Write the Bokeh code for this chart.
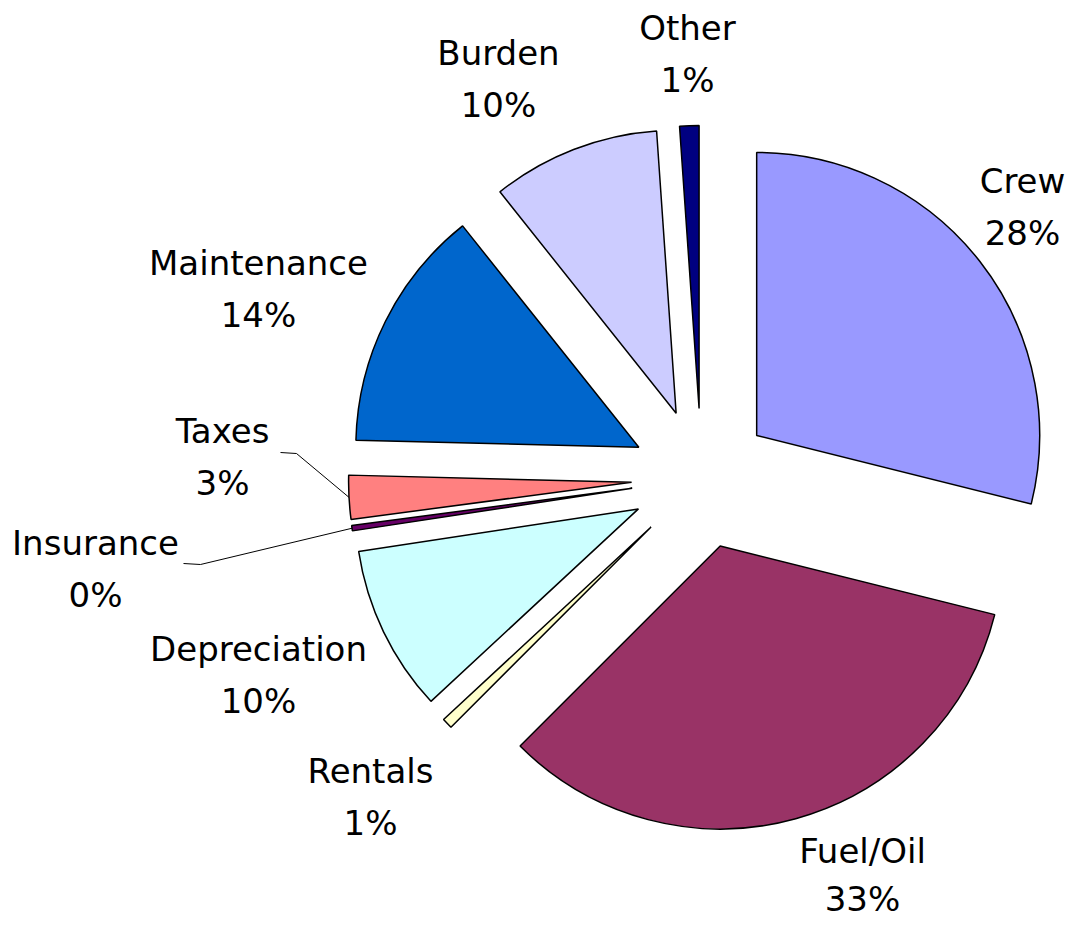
import math
from bokeh.plotting import figure
from bokeh.models import Range1d, ColumnDataSource
from bokeh.core.properties import value
from bokeh.embed import file_html
from bokeh.resources import INLINE

# ---- data (percent shares, clockwise from 12 o'clock) ----
categories = ["Crew", "Fuel/Oil", "Rentals", "Depreciation", "Insurance",
              "Taxes", "Maintenance", "Burden", "Other"]
shares = [28.9, 33.6, 0.6, 9.5, 0.3, 2.5, 13.9, 9.6, 1.1]
pct_labels = ["28%", "33%", "1%", "10%", "0%", "3%", "14%", "10%", "1%"]
colors = ["#9999FF", "#993366", "#FFFFCC", "#CCFFFF", "#660066",
          "#FF8080", "#0066CC", "#CCCCFF", "#000080"]

# ---- layout ----
CX, CY = 701, 462          # pie centre (data units = px)
RADIUS = 283
EXPLODE = 70
label_x = [1022, 862, 370, 258, 95, 222, 258, 498, 687]
label_y_top = [760, 90, 170, 292, 398, 510, 678, 888, 913]
line_gaps = [52, 48, 52, 52, 52, 52, 52, 52, 52]
FONT = "DejaVu Sans"
FONT_SIZE = "34px"
# label-side anchor of leader lines (for Taxes, Insurance)
leader_from = {"Taxes": [(280, 488), (296, 487)],
               "Insurance": [(183, 377), (200, 376)]}

total = sum(shares)
xs, ys, starts, ends, mids = [], [], [], [], []
acc = 0.0
for s in shares:
    a0 = acc / total * 360.0
    acc += s
    a1 = acc / total * 360.0
    m = math.radians((a0 + a1) / 2)
    xs.append(CX + EXPLODE * math.sin(m))
    ys.append(CY + EXPLODE * math.cos(m))
    starts.append(math.radians(90 - a0))
    ends.append(math.radians(90 - a1))
    mids.append(m)

src = ColumnDataSource(dict(x=xs, y=ys, start=starts, end=ends, color=colors))

p = figure(width=1072, height=924, output_backend="svg", toolbar_location=None,
           x_range=Range1d(0, 1072), y_range=Range1d(16, 940), min_border=0)
p.axis.visible = False
p.grid.visible = False
p.outline_line_color = None
p.background_fill_color = "white"
p.border_fill_color = "white"

p.wedge(x="x", y="y", radius=RADIUS, start_angle="start", end_angle="end",
        direction="clock", fill_color="color", line_color="black",
        line_width=1.5, source=src)

# leader lines
for name, pts in leader_from.items():
    i = categories.index(name)
    m = mids[i]
    ex = CX + (EXPLODE + RADIUS) * math.sin(m)
    ey = CY + (EXPLODE + RADIUS) * math.cos(m)
    lx = [pt[0] for pt in pts] + [ex]
    ly = [pt[1] for pt in pts] + [ey]
    p.line(lx, ly, line_color="black", line_width=1)

p.text(x=label_x, y=label_y_top, text=categories, text_align="center",
       text_baseline="middle", text_font=value(FONT), text_font_size=FONT_SIZE,
       text_color="black")
p.text(x=label_x, y=[v - g for v, g in zip(label_y_top, line_gaps)],
       text=pct_labels, text_align="center", text_baseline="middle",
       text_font=value(FONT), text_font_size=FONT_SIZE, text_color="black")

open("out.html", "w").write(file_html(p, INLINE))
